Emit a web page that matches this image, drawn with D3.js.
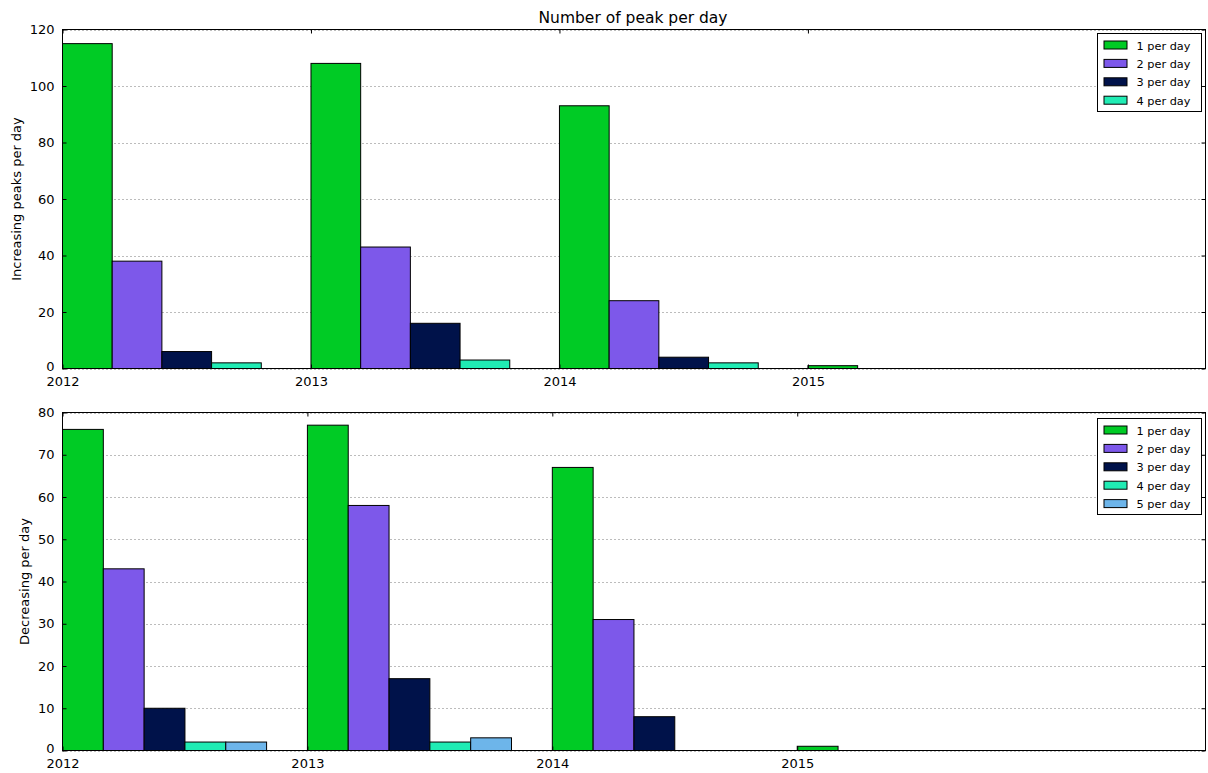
<!DOCTYPE html>
<html>
<head>
<meta charset="utf-8">
<script src="https://cdn.jsdelivr.net/npm/d3@7"></script>
<style>
  html, body { margin: 0; padding: 0; background: #fff; }
  svg { display: block; font-family: "DejaVu Sans", sans-serif; }
</style>
</head>
<body>
<svg id="chart" width="1208" height="773"></svg>
<script>
// Years on the x axis
const years = [2012, 2013, 2014, 2015];

// Increasing peaks per day, one array per "n per day" series
const incSeries = ["1 per day", "2 per day", "3 per day", "4 per day"];
const inc1 = [115, 108, 93, 1];
const inc2 = [38, 43, 24, 0];
const inc3 = [6, 16, 4, 0];
const inc4 = [2, 3, 2, 0];

// Decreasing peaks per day
const decSeries = ["1 per day", "2 per day", "3 per day", "4 per day", "5 per day"];
const dec1 = [76, 77, 67, 1];
const dec2 = [43, 58, 31, 0];
const dec3 = [10, 17, 8, 0];
const dec4 = [2, 2, 0, 0];
const dec5 = [2, 3, 0, 0];

const incTicks = [0, 20, 40, 60, 80, 100, 120];
const decTicks = [0, 10, 20, 30, 40, 50, 60, 70, 80];

const colors = ["#00cb25", "#7d58ea", "#00124a", "#20ecb4", "#6db5ea"];

const svg = d3.select("#chart");

svg.append("text")
  .attr("x", 633).attr("y", 23)
  .attr("text-anchor", "middle")
  .attr("font-size", 15.5)
  .attr("fill", "#000")
  .text("Number of peak per day");

function panel(opts) {
  const { top, bottom, left, right, xMax, yMax, ticks, series, names, ylabel, ylabelX, legend } = opts;
  const g = svg.append("g");
  const nS = series.length;
  const bw = 1 / (nS + 1);

  const x = d3.scaleLinear().domain([2012, xMax]).range([left, right]);
  const y = d3.scaleLinear().domain([0, yMax]).range([bottom, top]);

  // dotted grid lines
  g.append("g").selectAll("line").data(ticks).join("line")
    .attr("x1", left).attr("x2", right)
    .attr("y1", d => Math.round(y(d)) + 0.5).attr("y2", d => Math.round(y(d)) + 0.5)
    .attr("stroke", "#555").attr("stroke-width", 0.8)
    .attr("stroke-dasharray", "1,3");

  // bars
  series.forEach((vals, i) => {
    g.append("g").selectAll("rect").data(vals.map((v, j) => ({ v, year: years[j] }))).join("rect")
      .attr("x", d => x(d.year + i * bw))
      .attr("width", d => x(d.year + (i + 1) * bw) - x(d.year + i * bw))
      .attr("y", d => y(d.v))
      .attr("height", d => y(0) - y(d.v))
      .attr("fill", colors[i])
      .attr("stroke", "#000")
      .attr("stroke-width", 1);
  });

  // frame
  g.append("rect")
    .attr("x", left).attr("y", top)
    .attr("width", right - left).attr("height", bottom - top)
    .attr("fill", "none").attr("stroke", "#000").attr("stroke-width", 1);

  // y axis (ticks pointing inward)
  const yAxis = d3.axisLeft(y).tickValues(ticks).tickSizeInner(-4).tickSizeOuter(0).tickPadding(8);
  const ya = g.append("g").attr("transform", `translate(${left},0)`).call(yAxis);
  ya.select(".domain").remove();
  ya.selectAll("text").attr("font-size", 13).attr("fill", "#000").attr("font-family", "DejaVu Sans, sans-serif");
  // the zero label sits a little above the baseline so it clears the year labels
  ya.selectAll(".tick").filter(d => d === 0).select("text").attr("y", -2.5);
  ya.selectAll("line").attr("stroke", "#000");
  const yr = g.append("g").attr("transform", `translate(${right},0)`)
    .call(d3.axisRight(y).tickValues(ticks).tickSizeInner(-4).tickSizeOuter(0).tickFormat(""));
  yr.select(".domain").remove();

  // x axis
  const xAxis = d3.axisBottom(x).tickValues(years).tickFormat(d3.format("d"))
    .tickSizeInner(-4).tickSizeOuter(0).tickPadding(8);
  const xa = g.append("g").attr("transform", `translate(0,${bottom})`).call(xAxis);
  xa.select(".domain").remove();
  xa.selectAll("text").attr("font-size", 13).attr("fill", "#000")
    .attr("font-family", "DejaVu Sans, sans-serif").attr("y", 8).attr("dy", "0.71em");
  const xt = g.append("g").attr("transform", `translate(0,${top})`)
    .call(d3.axisTop(x).tickValues(years).tickSizeInner(-4).tickSizeOuter(0).tickFormat(""));
  xt.select(".domain").remove();

  // y label
  g.append("text")
    .attr("transform", `translate(${ylabelX},${(top + bottom) / 2}) rotate(-90)`)
    .attr("text-anchor", "middle")
    .attr("font-size", 13)
    .attr("fill", "#000")
    .text(ylabel);

  // legend
  const lg = g.append("g");
  lg.append("rect")
    .attr("x", legend.x).attr("y", legend.y)
    .attr("width", legend.w).attr("height", legend.h)
    .attr("fill", "#fff").attr("stroke", "#000").attr("stroke-width", 1);
  names.forEach((n, i) => {
    const cy = legend.y + 12 + i * 18.4;
    lg.append("rect")
      .attr("x", legend.x + 6.5).attr("y", cy - 4.5)
      .attr("width", 23).attr("height", 8)
      .attr("fill", colors[i]).attr("stroke", "#000").attr("stroke-width", 1);
    lg.append("text")
      .attr("x", legend.x + 39).attr("y", cy + 4)
      .attr("font-size", 11.3)
      .attr("fill", "#000")
      .text(n);
  });
}

panel({
  top: 29.5, bottom: 368.5, left: 62.5, right: 1205.5,
  xMax: 2016.6, yMax: 120, ticks: incTicks,
  series: [inc1, inc2, inc3, inc4], names: incSeries,
  ylabel: "Increasing peaks per day", ylabelX: 21,
  legend: { x: 1097.5, y: 33.5, w: 104, h: 78 }
});

panel({
  top: 412.5, bottom: 750.5, left: 62.5, right: 1205.5,
  xMax: 2016.667, yMax: 80, ticks: decTicks,
  series: [dec1, dec2, dec3, dec4, dec5], names: decSeries,
  ylabel: "Decreasing per day", ylabelX: 29,
  legend: { x: 1097.5, y: 418.5, w: 104, h: 96 }
});
</script>
</body>
</html>
